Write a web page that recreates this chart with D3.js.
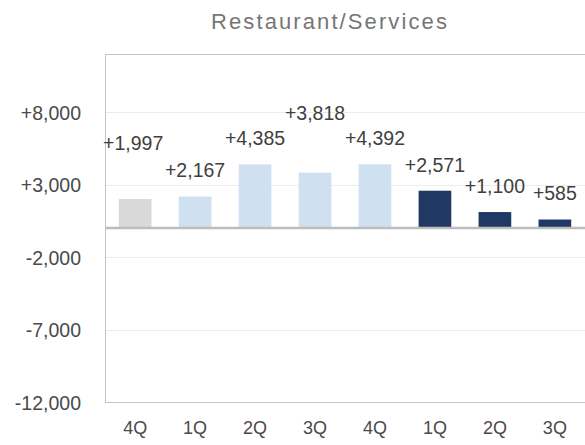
<!DOCTYPE html>
<html lang="en">
<head>
<meta charset="UTF-8">
<title>Restaurant/Services</title>
<style>
    body { margin: 0; background: #fff; }
    svg { display: block; font-family: "Liberation Sans", Arial, sans-serif; }
    .grid line { stroke: #ececec; stroke-width: 1; }
    .axis text { fill: #4a4a4a; font-size: 19.5px; }
    .axis path, .axis line { display: none; }
    .val { fill: #404040; font-size: 19.5px; text-anchor: middle; }
    .title { fill: #767676; font-size: 22px; letter-spacing: 2.1px; text-anchor: middle; }
</style>
</head>
<body>
<svg width="585" height="445"></svg>
<script src="https://d3js.org/d3.v7.min.js"></script>
<script>
// data
var quarters = ["4Q", "1Q", "2Q", "3Q", "4Q", "1Q", "2Q", "3Q"];
var values = [1997, 2167, 4385, 3818, 4392, 2571, 1100, 585];
var periods = ["prev", "cur", "cur", "cur", "cur", "next", "next", "next"];
// where each value label sits (in data units, baseline)
var labelAt = [5350, 3520, 5700, 7450, 5700, 3860, 2390, 1910];
var yTicks = [-12000, -7000, -2000, 3000, 8000];
var yDomain = [-12000, 12000];

var periodColor = { prev: "#d9d9d9", cur: "#cfe0f1", next: "#203864" };

var svg = d3.select("svg"),
    margin = {top: 54, right: 0, bottom: 43, left: 105},
    width = 480,
    height = +svg.attr("height") - margin.top - margin.bottom;

var x = d3.scaleBand().domain(d3.range(values.length)).range([0, width]).paddingInner(0.455).paddingOuter(0.23);
var y = d3.scaleLinear().domain(yDomain).range([height, 0]);

// Excel style: plain hyphen for negatives, plus sign for positives
function signed(d) {
    return (d > 0 ? "+" : d < 0 ? "-" : "") + d3.format(",")(Math.abs(d));
}

svg.append("text")
    .attr("class", "title")
    .attr("x", 330)
    .attr("y", 29)
    .text("Restaurant/Services");

var g = svg.append("g").attr("transform", "translate(" + margin.left + "," + margin.top + ")");

// gridlines
g.append("g").attr("class", "grid")
  .selectAll("line")
  .data(yTicks)
  .enter().append("line")
    .attr("x1", 0).attr("x2", width + 5)
    .attr("y1", function(d) { return Math.round(y(d)) + 0.5; })
    .attr("y2", function(d) { return Math.round(y(d)) + 0.5; });

// frame: left, top, bottom
g.append("line").attr("x1", 0.5).attr("x2", 0.5).attr("y1", 0).attr("y2", height)
    .attr("stroke", "#c4c4c4").attr("stroke-width", 1);
g.append("line").attr("x1", 0).attr("x2", width + 5).attr("y1", 0.5).attr("y2", 0.5)
    .attr("stroke", "#c4c4c4").attr("stroke-width", 1);
g.append("line").attr("x1", 0).attr("x2", width + 5).attr("y1", height + 0.5).attr("y2", height + 0.5)
    .attr("stroke", "#c4c4c4").attr("stroke-width", 1);

// y axis labels
g.append("g")
    .attr("class", "axis")
    .attr("transform", "translate(-24,0)")
    .call(d3.axisLeft(y).tickValues(yTicks).tickSize(0).tickPadding(0).tickFormat(signed))
    .selectAll("text").attr("dy", "0.36em");

// x axis labels
g.append("g")
    .attr("class", "axis")
    .attr("transform", "translate(0," + height + ")")
    .call(d3.axisBottom(x).tickSize(0).tickPadding(0).tickFormat(function(i) { return quarters[i]; }))
    .selectAll("text").attr("dy", "1.75em").style("font-size", "18px");

// bars
g.selectAll(".bar")
  .data(values)
  .enter().append("rect")
    .attr("class", "bar")
    .attr("x", function(d, i) { return x(i); })
    .attr("y", function(d) { return y(d); })
    .attr("width", x.bandwidth())
    .attr("height", function(d) { return y(0) - y(d) - 1; })
    .attr("fill", function(d, i) { return periodColor[periods[i]]; });

// zero line
g.append("line")
    .attr("x1", 0).attr("x2", width + 5)
    .attr("y1", y(0)).attr("y2", y(0))
    .attr("stroke", "#bdbdbd").attr("stroke-width", 2.6);

// value labels
g.selectAll(".val")
  .data(values)
  .enter().append("text")
    .attr("class", "val")
    .attr("x", function(d, i) { return x(i) + x.bandwidth() / 2 - (i === 0 ? 2 : 0); })
    .attr("y", function(d, i) { return y(labelAt[i]); })
    .text(signed);
</script>
</body>
</html>
